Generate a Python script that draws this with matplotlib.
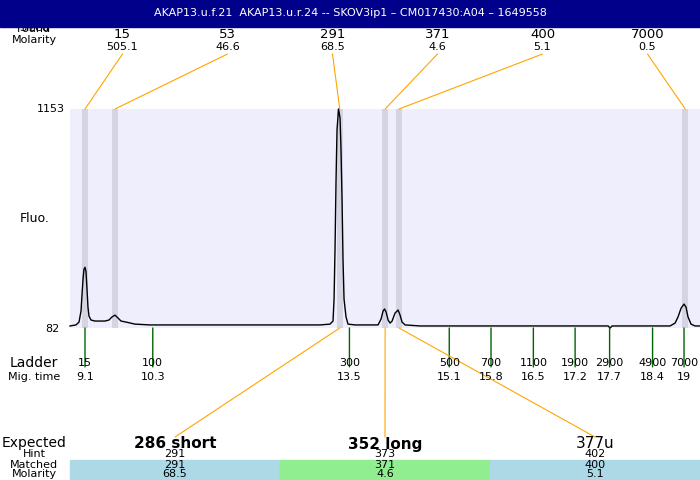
import matplotlib
matplotlib.use("Agg")
import matplotlib.pyplot as plt
from matplotlib.patches import Rectangle

# --- data ------------------------------------------------------------------
title = "AKAP13.u.f.21  AKAP13.u.r.24 -- SKOV3ip1 \u2013 CM017430:A04 \u2013 1649558"

# electropherogram trace (migration time, fluorescence)
trace_t = [8.852, 8.951, 9.001, 9.034, 9.050, 9.067, 9.083, 9.100, 9.116, 9.133,
           9.149, 9.166, 9.199, 9.265, 9.430, 9.496, 9.546, 9.596, 9.645, 9.695,
           9.778, 9.926, 10.174, 11.827, 12.984, 13.149, 13.199, 13.216, 13.232, 13.249,
           13.265, 13.290, 13.315, 13.331, 13.348, 13.364, 13.381, 13.414, 13.447, 13.563,
           13.943, 13.993, 14.026, 14.051, 14.076, 14.109, 14.142, 14.175, 14.224, 14.274,
           14.307, 14.340, 14.390, 14.637, 17.745, 17.778, 17.811, 18.769, 18.852, 18.901,
           18.951, 19.000, 19.033, 19.066, 19.116, 19.182, 19.264]
trace_fluo = [92, 97, 111, 165, 243, 320, 369, 379, 359, 272,
              184, 140, 121, 116, 116, 121, 136, 145, 131, 116,
              111, 101, 97, 97, 97, 101, 116, 223, 467, 807,
              1051, 1153, 1109, 953, 710, 418, 223, 136, 101, 97,
              97, 126, 165, 175, 160, 121, 106, 116, 155, 170,
              145, 111, 97, 92, 92, 82, 92, 92, 106, 136,
              179, 199, 184, 136, 101, 92, 92]
fluo_min, fluo_max = 82, 1153

# found peaks
peak_size = ["15", "53", "291", "371", "400", "7000"]
peak_molarity = ["505.1", "46.6", "68.5", "4.6", "5.1", "0.5"]
peak_time = [9.10, 9.596, 13.31, 14.06, 14.29, 19.02]

# ladder
ladder_size = ["15", "100", "300", "500", "700", "1100", "1900", "2900", "4900", "7000"]
ladder_time = [9.10, 10.22, 13.47, 15.12, 15.81, 16.51, 17.20, 17.77, 18.48, 19.00]
ladder_mig = ["9.1", "10.3", "13.5", "15.1", "15.8", "16.5", "17.2", "17.7", "18.4", "19"]

# expected products
expected = ["286 short", "352 long", "377u"]
expected_bold = [True, True, False]
expected_peak = [2, 3, 4]
hint = ["291", "373", "402"]
matched = ["291", "371", "400"]
matched_molarity = ["68.5", "4.6", "5.1"]
matched_color = ["#add8e6", "#90ee90", "#add8e6"]

# --- figure -----------------------------------------------------------------
W, H = 700, 480
fig = plt.figure(figsize=(7, 4.8), dpi=100)


def fx(x):
    return x / W


def fy(y):
    return 1 - y / H


def label(x, y, s, size=8, ha="center", **kw):
    fig.text(fx(x), fy(y), s, fontsize=size, ha=ha, va="center", **kw)


# title bar
fig.patches.append(Rectangle((0, fy(27)), 1, 27 / H, transform=fig.transFigure,
                             color="#00008b", zorder=5))
fig.text(0.5, fy(13), title, color="white", fontsize=8, ha="center", va="center", zorder=6)

# plot area
ax = fig.add_axes([fx(70), fy(328), fx(630), 219 / H])
ax.set_facecolor("#eeeefc")
for s in ax.spines.values():
    s.set_visible(False)
ax.set_xticks([])
ax.set_yticks([])
ax.set_xlim(8.852, 19.264)
ax.set_ylim(fluo_min, fluo_max)

band_w = 0.107
for t in peak_time:
    ax.axvspan(t - band_w / 2, t + band_w / 2, color="#d4d4e2", lw=0)
ax.plot(trace_t, trace_fluo, color="black", lw=1.0, clip_on=False, zorder=3)

line_kw = dict(arrowstyle="-", color="orange", lw=0.8, shrinkA=0, shrinkB=0)

# top: found sizes and molarity
label(34, 28, "Sized", size=8)
label(34, 29, "Found", size=8)
label(34, 40, "Molarity", size=8)
for i, (s, m, t) in enumerate(zip(peak_size, peak_molarity, peak_time)):
    x = 70 + 630 * (i + 0.5) / len(peak_size)
    label(x, 34, s, size=9.5)
    label(x, 47, m, size=8)
    ax.annotate("", xy=(t, fluo_max), xycoords="data",
                xytext=(fx(x), fy(54)), textcoords="figure fraction",
                arrowprops=line_kw, annotation_clip=False)

# y labels
label(65, 109, "1153", size=8, ha="right")
label(35, 219, "Fluo.", size=9)
label(59, 329, "82", size=8, ha="right")

# ladder
label(34, 363, "Ladder", size=10)
label(34, 377, "Mig. time", size=8)
for s, t, m in zip(ladder_size, ladder_time, ladder_mig):
    ax.annotate("", xy=(t, fluo_min), xycoords="data",
                xytext=(0, -28), textcoords="offset points",
                arrowprops=dict(arrowstyle="-", color="darkgreen", lw=1.0,
                                shrinkA=0, shrinkB=0),
                annotation_clip=False)
    xp = ax.transData.transform((t, fluo_min))[0]
    label(xp, 363, s, size=8)
    label(xp, 377, m, size=8)

# expected / matched table
label(34, 443, "Expected", size=10)
label(34, 454, "Hint", size=8)
label(34, 465, "Matched", size=8)
label(34, 474, "Molarity", size=8)
for i in range(len(expected)):
    x0 = 70 + 210 * i
    xc = x0 + 105
    fig.patches.append(Rectangle((fx(x0), 0), 210 / W, 20 / H,
                                 transform=fig.transFigure,
                                 color=matched_color[i], zorder=0))
    label(xc, 444, expected[i], size=11,
          fontweight="bold" if expected_bold[i] else "normal")
    label(xc, 454, hint[i], size=8)
    label(xc, 465, matched[i], size=8)
    label(xc, 474, matched_molarity[i], size=8)
    ax.annotate("", xy=(peak_time[expected_peak[i]], fluo_min), xycoords="data",
                xytext=(fx(xc), fy(437)), textcoords="figure fraction",
                arrowprops=line_kw, annotation_clip=False)

fig.savefig("out.png", dpi=100)
